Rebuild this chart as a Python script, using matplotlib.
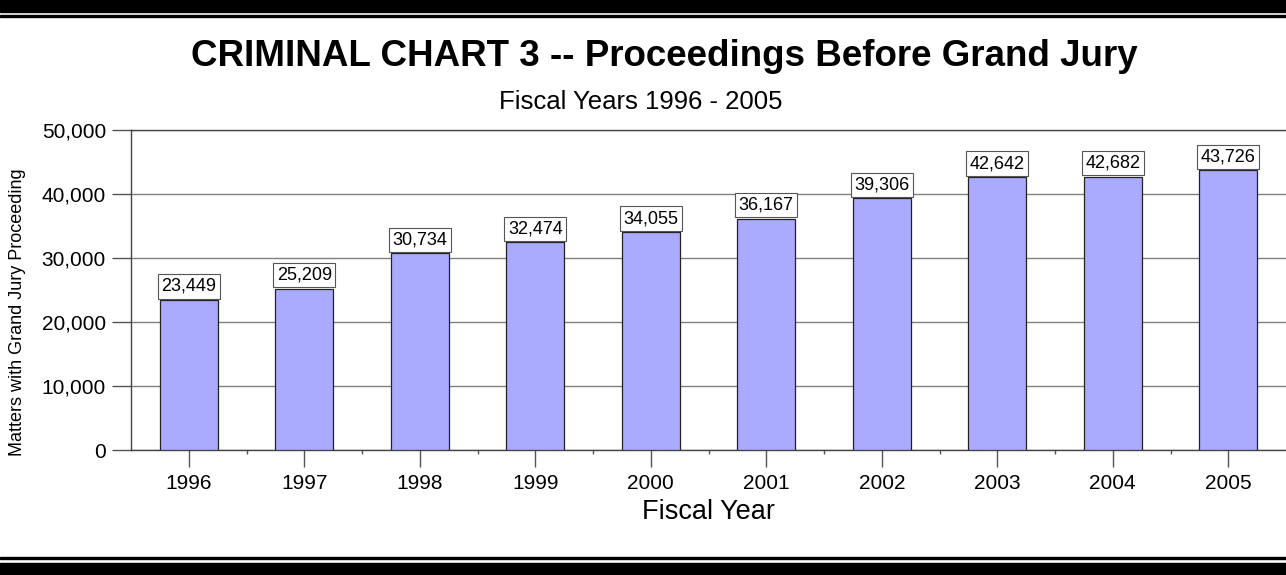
import matplotlib.pyplot as plt
from matplotlib.patches import Rectangle
from matplotlib.ticker import FuncFormatter, MultipleLocator

plt.rcParams['font.family'] = ['Liberation Sans', 'DejaVu Sans']

# Grand jury matters by fiscal year
years = ['1996', '1997', '1998', '1999', '2000', '2001', '2002', '2003', '2004', '2005']
matters = [23449, 25209, 30734, 32474, 34055, 36167, 39306, 42642, 42682, 43726]

W, H = 1286, 575
fig = plt.figure(figsize=(W / 100, H / 100), dpi=100)

# heavy rules at top and bottom of the page
def band(y0, y1):
    fig.patches.append(Rectangle((0, 1 - y1 / H), 1, (y1 - y0) / H,
                                 transform=fig.transFigure, color='black', zorder=0))

band(0, 12)
band(14.5, 17)
band(556.5, 559)
band(562.5, 575)

ax = fig.add_axes([131 / W, 1 - 450 / H, 1155 / W, 320 / H])
x = range(len(years))
ax.bar(x, matters, width=0.5, color='#aaaaff', edgecolor='#222222', linewidth=0.9, zorder=3)

for i, v in enumerate(matters):
    ax.annotate(f'{v:,}', (i, v), xytext=(0, 3.6), textcoords='offset points',
                ha='center', va='bottom', fontsize=13, zorder=4,
                bbox=dict(boxstyle='square,pad=0.2', fc='white', ec='#555555', lw=0.8))

ax.set_xlim(-0.5, len(years) - 0.5)
ax.set_ylim(0, 50000)
ax.yaxis.set_major_locator(MultipleLocator(10000))
ax.yaxis.set_major_formatter(FuncFormatter(lambda v, p: f'{int(v):,}'))
ax.set_xticks(list(x))
ax.set_xticklabels(years)
ax.set_xticks([i + 0.5 for i in range(len(years) - 1)], minor=True)
ax.tick_params(axis='x', which='major', length=12, width=1, color='#555555',
               labelsize=15, pad=5)
ax.tick_params(axis='x', which='minor', length=3, width=1, color='#555555')
ax.tick_params(axis='y', length=14, width=1, color='#555555', labelsize=15, pad=4)

ax.grid(axis='y', color='#808080', linewidth=1, zorder=0)
ax.set_axisbelow(True)
ax.spines['right'].set_visible(False)
for s in ['left', 'top', 'bottom']:
    ax.spines[s].set_color('#444444')
    ax.spines[s].set_linewidth(1)

fig.text(664 / W, 1 - 57 / H, 'CRIMINAL CHART 3 -- Proceedings Before Grand Jury',
         ha='center', va='center', fontsize=26.5, fontweight='bold')
fig.text(641 / W, 1 - 102 / H, 'Fiscal Years 1996 - 2005',
         ha='center', va='center', fontsize=18.5)
fig.text(709 / W, 1 - 512 / H, 'Fiscal Year', ha='center', va='center', fontsize=19.5)
fig.text(18 / W, 1 - 312 / H, 'Matters with Grand Jury Proceeding',
         ha='center', va='center', rotation=90, fontsize=13)

fig.savefig('out.png', dpi=100)
